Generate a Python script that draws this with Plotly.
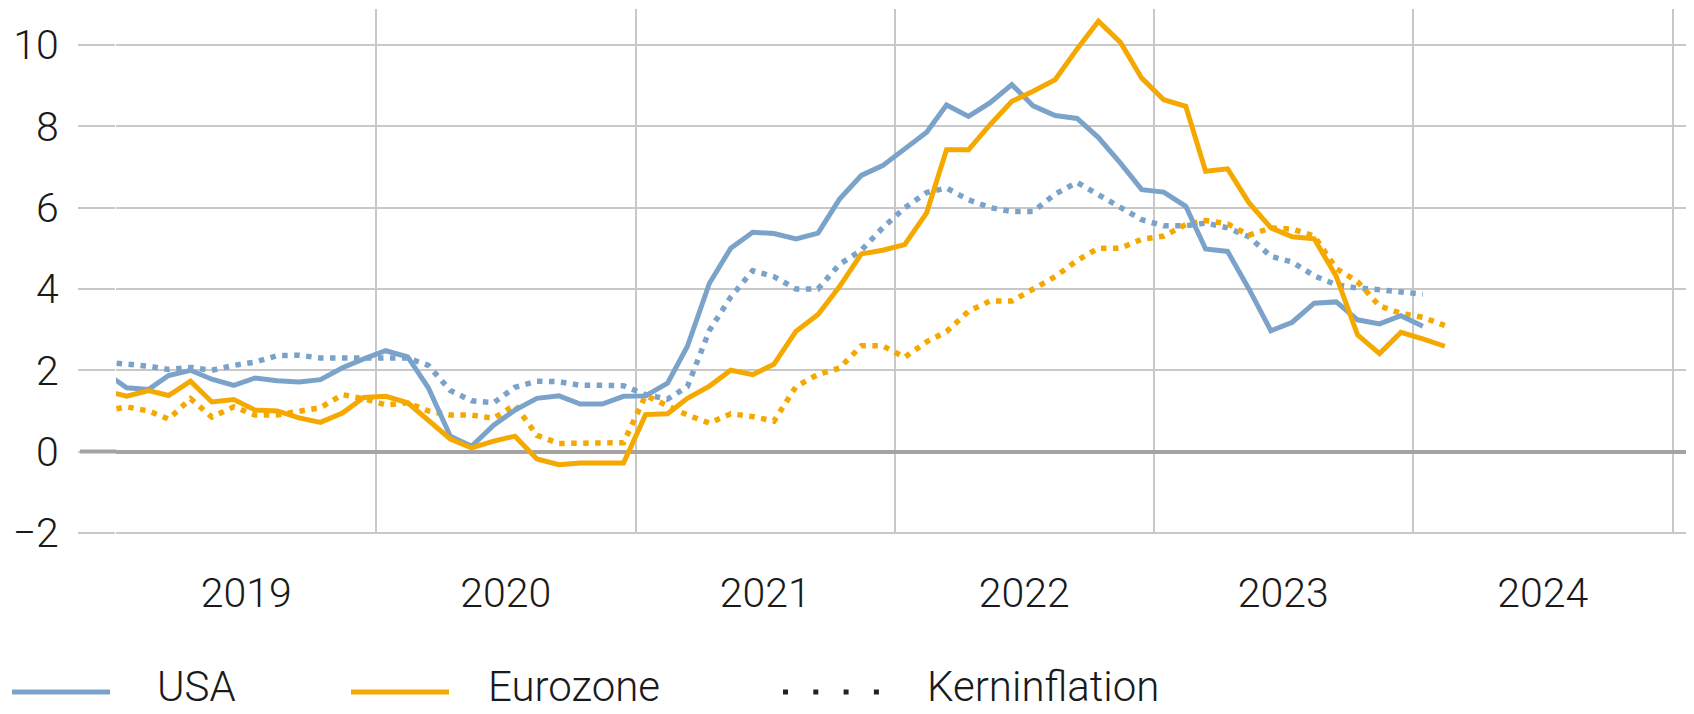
import pandas as pd
import plotly.graph_objects as go

# ---------------- data (year-on-year inflation, %) ----------------
# monthly observations Dec 2018 ... Feb 2024, plotted mid-month
months = pd.date_range("2018-12-01", "2024-02-01", freq="MS") + pd.Timedelta(days=14)

usa = [1.95,
       1.57, 1.53, 1.87, 2.00, 1.78, 1.63, 1.81, 1.74, 1.71, 1.77, 2.06, 2.28,
       2.48, 2.33, 1.57, 0.38, 0.13, 0.65, 1.02, 1.31, 1.37, 1.17, 1.17, 1.36,
       1.37, 1.68, 2.59, 4.14, 5.00, 5.39, 5.36, 5.23, 5.37, 6.20, 6.79, 7.03,
       7.44, 7.85, 8.52, 8.24, 8.57, 9.02, 8.50, 8.26, 8.19, 7.72, 7.09, 6.44,
       6.38, 6.03, 4.98, 4.92, 4.00, 2.97, 3.18, 3.65, 3.68, 3.24, 3.14, 3.34,
       3.08]

eurozone = [1.50,
            1.36, 1.50, 1.38, 1.73, 1.22, 1.28, 1.02, 1.00, 0.83, 0.72, 0.95, 1.33,
            1.36, 1.20, 0.77, 0.31, 0.09, 0.26, 0.38, -0.18, -0.32, -0.28, -0.28, -0.28,
            0.91, 0.93, 1.31, 1.61, 2.00, 1.89, 2.15, 2.96, 3.37, 4.05, 4.86, 4.95,
            5.09, 5.87, 7.42, 7.42, 8.03, 8.61, 8.86, 9.14, 9.90, 10.58, 10.06, 9.18,
            8.65, 8.49, 6.89, 6.95, 6.12, 5.50, 5.28, 5.23, 4.31, 2.87, 2.41, 2.93,
            2.77, 2.59]

usa_core = [2.20,
            2.15, 2.10, 2.02, 2.07, 2.00, 2.12, 2.20, 2.36, 2.37, 2.30, 2.30, 2.30,
            2.30, 2.30, 2.12, 1.50, 1.25, 1.20, 1.58, 1.73, 1.72, 1.63, 1.63, 1.62,
            1.40, 1.29, 1.60, 2.98, 3.80, 4.45, 4.30, 4.00, 4.00, 4.60, 4.95, 5.50,
            5.99, 6.37, 6.48, 6.19, 6.00, 5.90, 5.90, 6.33, 6.62, 6.31, 5.98, 5.70,
            5.55, 5.55, 5.62, 5.50, 5.28, 4.80, 4.66, 4.32, 4.10, 4.02, 3.98, 3.92,
            3.87]

eurozone_core = [1.00,
                 1.10, 1.00, 0.80, 1.30, 0.85, 1.10, 0.90, 0.90, 1.00, 1.08, 1.40, 1.30,
                 1.15, 1.20, 1.00, 0.90, 0.90, 0.82, 1.15, 0.40, 0.20, 0.20, 0.20, 0.22,
                 1.38, 1.12, 0.90, 0.70, 0.93, 0.86, 0.75, 1.60, 1.90, 2.05, 2.60, 2.60,
                 2.32, 2.70, 2.95, 3.45, 3.70, 3.70, 4.00, 4.30, 4.70, 5.00, 5.00, 5.22,
                 5.30, 5.58, 5.68, 5.60, 5.32, 5.50, 5.47, 5.30, 4.50, 4.18, 3.58, 3.40,
                 3.30, 3.10]

y_ticks = [-2, 0, 2, 4, 6, 8, 10]
legend_labels = ["USA", "Eurozone", "Kerninflation"]

# ---------------- style ----------------
BLUE = "#7BA3C9"
ORANGE = "#F5A800"
GRID = "#c8c8c8"
ZERO = "#a4a4a4"
TEXT = "#1a1a1a"
FONT = "Roboto"

OFF = 8                      # page body margin of the html page
W, H = 1694 - OFF, 714 - OFF
L, R, T, B = 108, 0, 1, 180
PW, PH = W - L - R, H - T - B


def px(x_page):
    return (x_page - OFF - L) / PW


def py(y_page):
    return (H - B - (y_page - OFF)) / PH


fig = go.Figure()
dot = "5.5px,6.5px"
fig.add_trace(go.Scatter(x=months[:len(usa_core)], y=usa_core, mode="lines",
                         line=dict(color=BLUE, width=5.5, dash=dot), name="USA Kern"))
fig.add_trace(go.Scatter(x=months[:len(eurozone_core)], y=eurozone_core, mode="lines",
                         line=dict(color=ORANGE, width=5.5, dash=dot), name="Eurozone Kern"))
fig.add_trace(go.Scatter(x=months[:len(usa)], y=usa, mode="lines",
                         line=dict(color=BLUE, width=5), name="USA"))
fig.add_trace(go.Scatter(x=months[:len(eurozone)], y=eurozone, mode="lines",
                         line=dict(color=ORANGE, width=5), name="Eurozone"))

fig.update_layout(
    width=W, height=H,
    margin=dict(l=L, r=R, t=T, b=B, pad=0),
    plot_bgcolor="white", paper_bgcolor="white",
    font=dict(family=FONT, size=41, color=TEXT, weight=300),
    showlegend=False,
)

fig.update_xaxes(
    type="date", range=["2018-12-31", "2025-01-31"],
    tick0="2019-01-01", dtick="M12", tickformat="%Y", ticklabelmode="period",
    showgrid=True, gridcolor=GRID, gridwidth=2,
    ticks="", ticklabelstandoff=31,
    minor=dict(ticks="outside", ticklen=37, tickwidth=2, tickcolor=GRID,
               dtick="M12", tick0="2019-01-01", showgrid=False),
    showline=False, zeroline=False,
)
fig.update_yaxes(
    range=[-2.025, 10.88], tickvals=y_ticks,
    showgrid=True, gridcolor=GRID, gridwidth=2,
    ticks="outside", ticklen=37, tickwidth=2, tickcolor=GRID,
    zeroline=True, zerolinecolor=ZERO, zerolinewidth=4,
    showline=False, ticklabelstandoff=11,
)

# extension of the zero line into the tick area
fig.add_shape(type="line", xref="paper", yref="y", x0=px(80), x1=0, y0=0, y1=0,
              line=dict(color=ZERO, width=4), layer="above")

# ---------------- manual legend ----------------
ly = py(692)
fig.add_shape(type="line", xref="paper", yref="paper", x0=px(12), x1=px(110), y0=ly, y1=ly,
              line=dict(color=BLUE, width=5))
fig.add_shape(type="line", xref="paper", yref="paper", x0=px(351), x1=px(449), y0=ly, y1=ly,
              line=dict(color=ORANGE, width=5))
fig.add_shape(type="line", xref="paper", yref="paper", x0=px(783), x1=px(879), y0=ly, y1=ly,
              line=dict(color="#222222", width=5, dash="5px,25.3px"))
for lab, x0 in zip(legend_labels, [155, 486, 925]):
    fig.add_annotation(text=lab, xref="paper", yref="paper", x=px(x0), y=py(686),
                       xanchor="left", yanchor="middle", showarrow=False,
                       font=dict(family=FONT, size=42, color=TEXT, weight=300))

fig.write_html("out.html")
